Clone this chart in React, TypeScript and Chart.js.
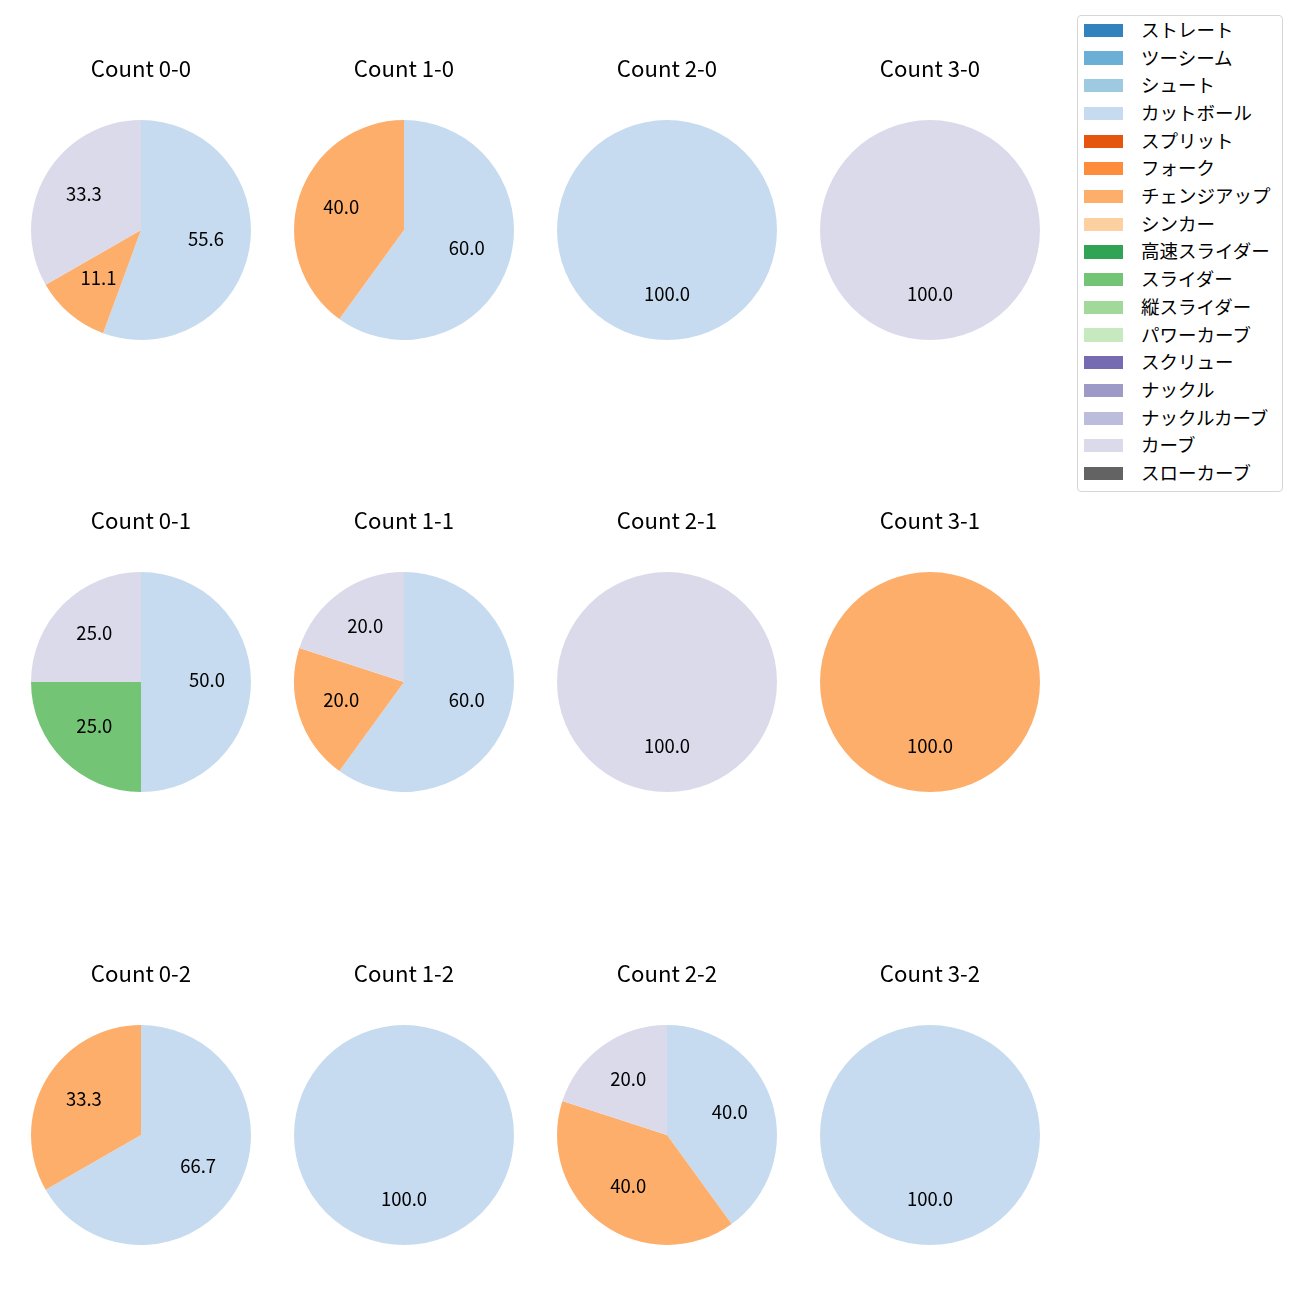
import React, { useEffect, useRef } from "react";
import { Chart, registerables } from "chart.js";

Chart.register(...registerables);

const FONT = "'Noto Sans CJK JP', 'Noto Sans', sans-serif";

const countLabels = ["0-0", "1-0", "2-0", "3-0", "0-1", "1-1", "2-1", "3-1", "0-2", "1-2", "2-2", "3-2"];

const pitchTypes = [
  "ストレート", "ツーシーム", "シュート", "カットボール", "スプリット", "フォーク",
  "チェンジアップ", "シンカー", "高速スライダー", "スライダー", "縦スライダー",
  "パワーカーブ", "スクリュー", "ナックル", "ナックルカーブ", "カーブ", "スローカーブ",
];

const pitchColors = [
  "#3182bd", "#6baed6", "#9ecae1", "#c6dbef", "#e6550d", "#fd8d3c",
  "#fdae6b", "#fdd0a2", "#31a354", "#74c476", "#a1d99b", "#c7e9c0",
  "#756bb1", "#9e9ac8", "#bcbddc", "#dadaeb", "#636363",
];

// Share (%) per count, in the order of countLabels
const cutterShare = [55.6, 60.0, 100.0, 0, 50.0, 60.0, 0, 0, 66.7, 100.0, 40.0, 100.0];
const changeupShare = [11.1, 40.0, 0, 0, 0, 20.0, 0, 100.0, 33.3, 0, 40.0, 0];
const sliderShare = [0, 0, 0, 0, 25.0, 0, 0, 0, 0, 0, 0, 0];
const curveShare = [33.3, 0, 0, 100.0, 25.0, 20.0, 100.0, 0, 0, 0, 20.0, 0];

const seriesByType: Record<string, number[]> = {
  "カットボール": cutterShare,
  "チェンジアップ": changeupShare,
  "スライダー": sliderShare,
  "カーブ": curveShare,
};

const colCenters = [141, 404, 667, 930];
const rowCenters = [230, 682, 1135];

const labelPlugin = {
  id: "pctLabels",
  afterDatasetsDraw(chart: any) {
    const ctx = chart.ctx;
    const meta = chart.getDatasetMeta(0);
    const data = chart.data.datasets[0].data as number[];
    const total = data.reduce((a, b) => a + b, 0);
    ctx.save();
    ctx.font = `18.5px ${FONT}`;
    ctx.fillStyle = "#000";
    ctx.textAlign = "center";
    ctx.textBaseline = "middle";
    meta.data.forEach((arc: any, i: number) => {
      const v = data[i];
      if (!v) return;
      const p = arc.getProps(["x", "y", "startAngle", "endAngle", "outerRadius"], true);
      const mid = (p.startAngle + p.endAngle) / 2;
      const r = p.outerRadius * 0.6;
      ctx.fillText(((v / total) * 100).toFixed(1), p.x + Math.cos(mid) * r, p.y + Math.sin(mid) * r - 2.5);
    });
    ctx.restore();
  },
};

function PieCell({ idx }: { idx: number }) {
  const ref = useRef<HTMLCanvasElement | null>(null);
  useEffect(() => {
    if (!ref.current) return;
    const values = pitchTypes.map((t) => (seriesByType[t] ? seriesByType[t][idx] : 0));
    const chart = new Chart(ref.current, {
      type: "pie",
      data: {
        labels: pitchTypes,
        datasets: [{ data: values, backgroundColor: pitchColors, borderWidth: 0 }],
      },
      options: {
        animation: false,
        responsive: false,
        maintainAspectRatio: false,
        layout: { padding: 0 },
        plugins: {
          legend: { display: false },
          tooltip: { enabled: false },
          title: {
            display: true,
            text: `Count ${countLabels[idx]}`,
            color: "#000",
            font: { family: FONT, size: 22.2, weight: "normal", lineHeight: 1.2 },
            padding: { top: 15.7, bottom: 37.7 },
          },
        },
      } as any,
      plugins: [labelPlugin],
    });
    return () => chart.destroy();
  }, [idx]);
  const cx = colCenters[idx % 4];
  const cy = rowCenters[Math.floor(idx / 4)];
  return (
    <canvas
      ref={ref}
      width={262}
      height={300}
      style={{ position: "absolute", left: cx - 131, top: cy - 190, width: 262, height: 300 }}
    />
  );
}

function Legend() {
  return (
    <div
      style={{
        position: "absolute",
        left: 1077,
        top: 15,
        width: 206,
        height: 477,
        boxSizing: "border-box",
        border: "1px solid #d6d6d6",
        borderRadius: 4,
        background: "#fff",
        fontFamily: FONT,
        fontSize: 18.5,
      }}
    >
      {pitchTypes.map((t, i) => {
        const cy = 14.3 + i * 27.7;
        return (
          <React.Fragment key={t}>
            <div
              style={{
                position: "absolute",
                left: 6,
                top: cy - 6.6,
                width: 39,
                height: 13.3,
                background: pitchColors[i],
              }}
            />
            <div
              style={{
                position: "absolute",
                left: 63,
                top: cy - 15.5,
                height: 28,
                lineHeight: "28px",
                whiteSpace: "nowrap",
                color: "#000",
              }}
            >
              {t}
            </div>
          </React.Fragment>
        );
      })}
    </div>
  );
}

export default function App() {
  return (
    <div style={{ position: "absolute", left: 0, top: 0, width: 1300, height: 1300, background: "#fff" }}>
      {countLabels.map((_, i) => (
        <PieCell key={i} idx={i} />
      ))}
      <Legend />
    </div>
  );
}
